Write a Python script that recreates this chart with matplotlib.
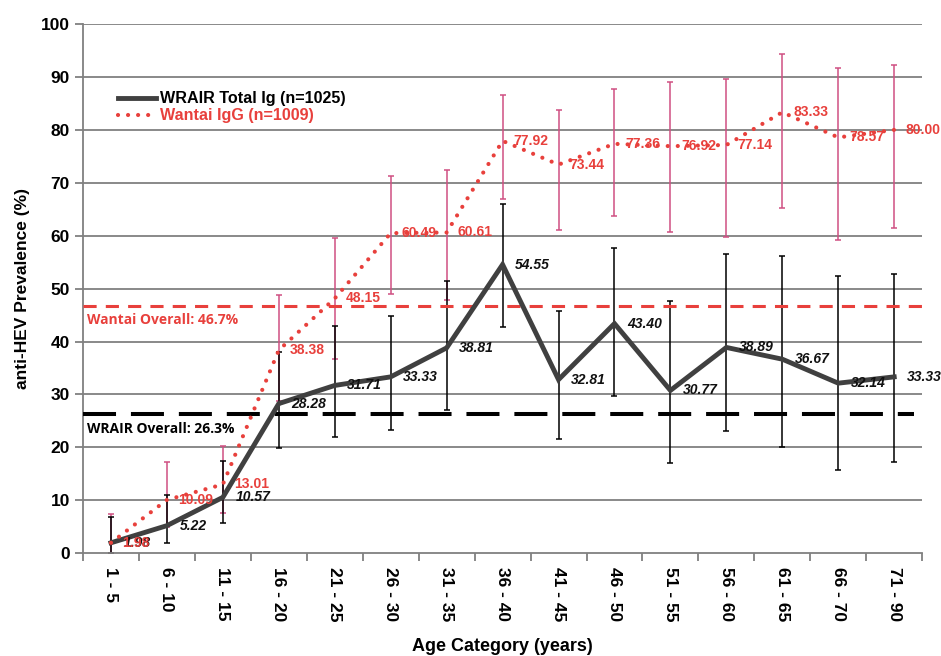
import numpy as np
import matplotlib
matplotlib.use("Agg")
import matplotlib.pyplot as plt

plt.rcParams['font.family'] = ['Liberation Sans', 'DejaVu Sans']

# age groups
categories = ["1 - 5", "6 - 10", "11 - 15", "16 - 20", "21 - 25", "26 - 30", "31 - 35",
              "36 - 40", "41 - 45", "46 - 50", "51 - 55", "56 - 60", "61 - 65", "66 - 70", "71 - 90"]

wrair = [1.98, 5.22, 10.57, 28.28, 31.71, 33.33, 38.81, 54.55, 32.81, 43.40, 30.77, 38.89, 36.67, 32.14, 33.33]
wrair_lo = [0.1, 1.9, 5.8, 19.8, 21.9, 23.2, 27.1, 42.8, 21.6, 29.8, 17.0, 23.1, 20.0, 15.8, 17.3]
wrair_hi = [6.9, 11.0, 17.4, 38.0, 43.0, 44.9, 51.5, 66.0, 45.8, 57.7, 47.6, 56.5, 56.1, 52.4, 52.8]

wantai = [1.98, 10.09, 13.01, 38.38, 48.15, 60.49, 60.61, 77.92, 73.44, 77.36, 76.92, 77.14, 83.33, 78.57, 80.00]
wantai_lo = [0.1, 5.0, 7.7, 28.7, 36.8, 49.0, 47.8, 67.0, 61.0, 63.8, 60.7, 59.8, 65.3, 59.1, 61.4]
wantai_hi = [7.4, 17.3, 20.2, 48.8, 59.5, 71.2, 72.5, 86.5, 83.7, 87.7, 89.0, 89.6, 94.4, 91.7, 92.3]

wrair_overall = 26.3
wantai_overall = 46.7

RED = '#e8403c'
PINK = '#cf4f82'
DARK = '#404040'

x = np.arange(len(categories))

fig = plt.figure(figsize=(9.41, 6.56), dpi=100)
ax = fig.add_axes([0.0882, 0.1566, 0.8918, 0.8068])

# grid
for g in range(10, 101, 10):
    ax.axhline(g, color='#808080', lw=1.3, zorder=0)

# error bars
ax.errorbar(x, wantai, yerr=[np.array(wantai) - np.array(wantai_lo), np.array(wantai_hi) - np.array(wantai)],
            fmt='none', ecolor=PINK, elinewidth=1.1, capsize=2.5, capthick=1.1, zorder=2)
ax.errorbar(x, wrair, yerr=[np.array(wrair) - np.array(wrair_lo), np.array(wrair_hi) - np.array(wrair)],
            fmt='none', ecolor='black', elinewidth=1.1, capsize=2.5, capthick=1.1, zorder=2)

# overall lines
ax.plot([-0.5, 14.35], [wrair_overall] * 2, color='black', lw=2.9, dashes=(8.2, 3.7), zorder=3)
ax.plot([-0.5, 14.5], [wantai_overall] * 2, color=RED, lw=2.2, dashes=(4.3, 3.0), zorder=3)

# series
l1, = ax.plot(x, wrair, color=DARK, lw=3.5, zorder=4, solid_joinstyle='miter', label='WRAIR Total Ig (n=1025)')
l2, = ax.plot(x, wantai, color=RED, lw=3, linestyle=(0, (0.01, 2.4)), dash_capstyle='round', zorder=5,
              label='Wantai IgG (n=1009)')

# value labels
for xi, v in zip(x, wrair):
    ax.annotate(f"{v:.2f}", (xi, v), xytext=(9, 0), textcoords='offset points', va='center', ha='left',
                fontsize=10, fontweight='bold', fontstyle='italic', color='#111111', zorder=6,
                annotation_clip=False)
for xi, v in zip(x, wantai):
    ax.annotate(f"{v:.2f}", (xi, v), xytext=(8, 0), textcoords='offset points', va='center', ha='left',
                fontsize=10, fontweight='bold', color=RED, zorder=6, annotation_clip=False)

ax.text(-0.43, 44.0, "Wantai Overall: 46.7%", color=RED, fontsize=10, fontweight='bold',
        family='Open Sans', va='center')
ax.text(-0.43, 23.5, "WRAIR Overall: 26.3%", color='black', fontsize=10, fontweight='bold',
        family='Open Sans', va='center')

leg = ax.legend(handles=[l1, l2], loc='upper left', bbox_to_anchor=(0.042, 0.873), frameon=False,
                handlelength=2.35, handletextpad=0.25, labelspacing=0.12, borderaxespad=0, borderpad=0,
                prop={'size': 11.6, 'weight': 'bold'})
leg.get_texts()[1].set_color(RED)

ax.set_xlim(-0.5, 14.5)
ax.set_ylim(0, 100)
ax.set_yticks(range(0, 101, 10))
ax.set_xticks(x)
ax.set_xticklabels(categories, rotation=270, fontsize=12.5, fontweight='bold')
ax.set_xticks(np.arange(-0.5, 15, 1), minor=True)
ax.tick_params(axis='x', which='major', length=0, pad=10)
ax.tick_params(axis='x', which='minor', length=6, color='#808080', width=1.3)
ax.tick_params(axis='y', length=6, color='#808080', width=1.3, labelsize=12.5)
for lab in ax.get_yticklabels():
    lab.set_fontweight('bold')

for s in ['top', 'right']:
    ax.spines[s].set_visible(False)
for s in ['left', 'bottom']:
    ax.spines[s].set_color('#808080')
    ax.spines[s].set_linewidth(1.3)

ax.set_ylabel("anti-HEV Prevalence (%)", fontsize=12.5, fontweight='bold', labelpad=8)
ax.set_xlabel("Age Category (years)", fontsize=13, fontweight='bold', labelpad=12)

fig.savefig("out.png", dpi=100)
